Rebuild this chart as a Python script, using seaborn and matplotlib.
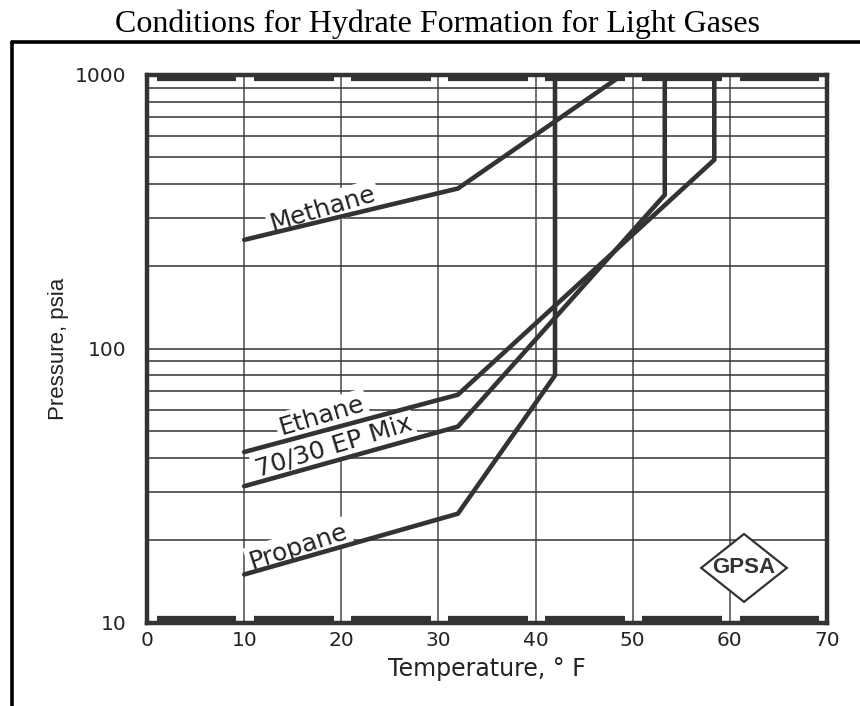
import matplotlib
matplotlib.use("Agg")
import matplotlib.pyplot as plt
from matplotlib import font_manager
from matplotlib.lines import Line2D
from matplotlib.patches import Polygon
import numpy as np
import pandas as pd
import seaborn as sns

# ---- data ----
methane_T = [10, 32, 48.2]
methane_P = [250, 385, 960]
ethane_T = [10, 32, 58.4, 58.4]
ethane_P = [42, 68, 490, 1000]
mix_T = [10, 32, 53.3, 53.3]
mix_P = [31.5, 52, 365, 1000]
propane_T = [10, 32, 42, 42]
propane_P = [15, 25, 80, 1000]

series_names = ["Methane", "Ethane", "70/30 EP Mix", "Propane"]
label_T = [18.1, 18.0, 19.2, 15.6]
label_P = [324, 57, 44.2, 19.0]
label_rot = [16.5, 16.5, 17, 18]

x_ticks = [0, 10, 20, 30, 40, 50, 60, 70]
y_ticks = [10, 100, 1000]
y_grid = [v * m for m in (10, 100) for v in range(1, 10)] + [1000]

title = "Conditions for Hydrate Formation for Light Gases"
xlabel = "Temperature, \u00b0 F"
ylabel = "Pressure, psia"

# ---- build frame ----
frames = []
for name, T, P in zip(series_names,
                      [methane_T, ethane_T, mix_T, propane_T],
                      [methane_P, ethane_P, mix_P, propane_P]):
    frames.append(pd.DataFrame({"T": T, "P": P, "gas": name,
                                "order": range(len(T))}))
df = pd.concat(frames, ignore_index=True)

sns.set_theme(style="white")
plt.rcParams["font.family"] = ["DejaVu Sans"]

names = {f.name for f in font_manager.fontManager.ttflist}
narrow = "Liberation Sans Narrow" if "Liberation Sans Narrow" in names else "Liberation Sans"
serif = "Liberation Serif" if "Liberation Serif" in names else "DejaVu Serif"

fig = plt.figure(figsize=(8.6, 7.06), dpi=100)
ax = fig.add_axes([0.171, 0.118, 0.7906, 0.7758])

line_col = "#333333"
sns.lineplot(data=df, x="T", y="P", units="gas", estimator=None, sort=False,
             color=line_col, lw=3.3, ax=ax, legend=False, zorder=4)

ax.set_yscale("log")
ax.set_xlim(0, 70)
ax.set_ylim(10, 1000)

# grid
for v in x_ticks[1:-1]:
    ax.axvline(v, color="#666666", lw=1.3, zorder=1)
for v in y_grid:
    ax.axhline(v, color="#333333", lw=1.1, zorder=1)

# thick decorative bands along top and bottom
trans = ax.get_xaxis_transform()
for start in x_ticks[:-1]:
    for yy in (0.006, 0.994):
        ax.plot([start + 1.0, start + 9.2], [yy, yy], transform=trans,
                color=line_col, lw=4.5, solid_capstyle="butt", zorder=5,
                clip_on=False)

# spines
for s in ax.spines.values():
    s.set_color(line_col)
    s.set_linewidth(3.2)
    s.set_zorder(6)

ax.set_xticks(x_ticks)
ax.set_xticklabels([str(v) for v in x_ticks])
ax.set_yticks(y_ticks)
ax.set_yticklabels([str(v) for v in y_ticks])
ax.yaxis.set_minor_locator(matplotlib.ticker.NullLocator())
ax.tick_params(axis="both", length=0, labelsize=14.5, colors="#222222")
ax.tick_params(axis="x", pad=6)
ax.tick_params(axis="y", pad=15)

ax.set_xlabel(xlabel, fontsize=17, color="#222222", labelpad=5)
ax.set_ylabel(ylabel, fontsize=16, color="#222222", family=narrow, labelpad=4)

# curve labels
for name, tx, ty, rot in zip(series_names, label_T, label_P, label_rot):
    ax.text(tx, ty, name, rotation=rot, rotation_mode="anchor",
            ha="center", va="center", fontsize=18, color="#222222", zorder=3,
            bbox=dict(boxstyle="square,pad=0.12", fc="white", ec="none"))

# GPSA logo (diamond monogram)
logo_cx, logo_cy, logo_hw, logo_hh = 0.878, 0.100, 0.063, 0.062
diamond = Polygon([[logo_cx - logo_hw, logo_cy], [logo_cx, logo_cy + logo_hh],
                   [logo_cx + logo_hw, logo_cy], [logo_cx, logo_cy - logo_hh]],
                  closed=True, transform=ax.transAxes, fc="white",
                  ec=line_col, lw=1.6, zorder=7)
ax.add_patch(diamond)
ax.text(logo_cx, logo_cy, "GPSA", transform=ax.transAxes, ha="center",
        va="center", fontsize=16, fontweight="bold", family=narrow,
        color=line_col, zorder=8)

# title and outer frame
fig.text(0.509, 0.966, title, ha="center", va="center", fontsize=23,
         family=serif, color="black")
fig.add_artist(Line2D([0.0145, 1.0], [0.941, 0.941], color="black", lw=2.6,
                      transform=fig.transFigure))
fig.add_artist(Line2D([0.0145, 0.0145], [0.0, 0.941], color="black", lw=2.6,
                      transform=fig.transFigure))

fig.savefig("out.png", dpi=100)
